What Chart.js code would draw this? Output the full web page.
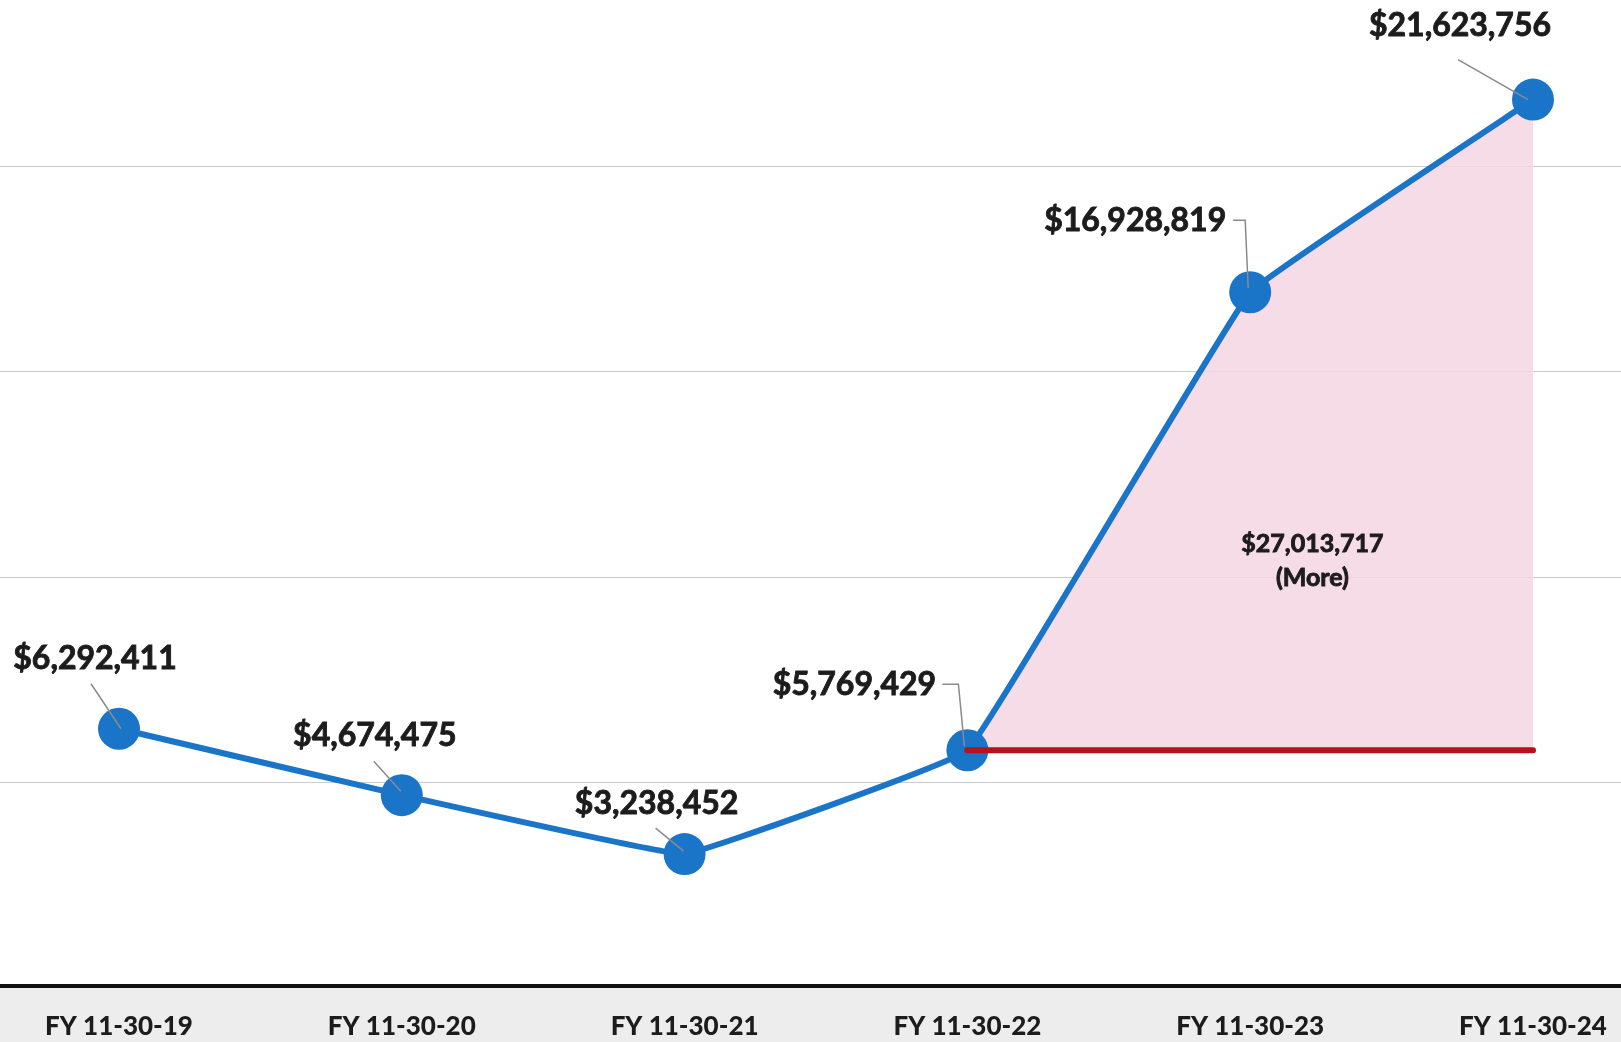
<!DOCTYPE html>
<html>
<head>
<meta charset="utf-8">
<script src="https://cdn.jsdelivr.net/npm/chart.js@4.4.1/dist/chart.umd.min.js"></script>
<style>
  html, body { margin: 0; padding: 0; background: #fff; }
  #wrap { width: 1621px; height: 1042px; position: relative; }
</style>
</head>
<body>
<div id="wrap"><canvas id="myChart"></canvas></div>
<script>
// data
const categories = ['FY 11-30-19', 'FY 11-30-20', 'FY 11-30-21', 'FY 11-30-22', 'FY 11-30-23', 'FY 11-30-24']
const netValues = [6292411, 4674475, 3238452, 5769429, 16928819, 21623756]
const baselineValues = [null, null, null, 5769429, 5769429, 5769429]
const gridValues = [5000000, 10000000, 15000000, 20000000]
const yMin = 0
const yMax = 24050000

// label placement relative to each point (pixels), and leader line shape
const labelOffsets = [[-24, -70], [-27, -59], [-28, -50], [-113, -66], [-115, -72], [-73, -74]]
const leaders = [
  [[-28, -45], [2, 0]],
  [[-28, -34], [-1, -4]],
  [[-29, -26], [-1, -3]],
  [[-25, -66], [-9, -66], [-3, -4]],
  [[-17, -72], [-5, -72], [-2, -4]],
  [[-75, -40], [-5, 0]]
]

const money = v => '$' + Math.round(v).toLocaleString('en-US')

// extra over the FY 11-30-22 level, summed over later years
var more = 0
netValues.forEach((v, i) => {
  if (i > 3) more += v - baselineValues[i]
})

// heavy text, a bit like the scanned bold labels
function boldText(ctx, text, x, y) {
  ctx.lineWidth = 0.9
  ctx.strokeStyle = ctx.fillStyle
  ctx.strokeText(text, x, y)
  ctx.fillText(text, x, y)
}

const backdrop = {
  id: 'backdrop',
  beforeDraw(chart) {
    const ctx = chart.ctx
    const area = chart.chartArea
    ctx.save()
    ctx.fillStyle = '#ededed'
    ctx.fillRect(0, area.bottom, chart.width, chart.height - area.bottom)
    ctx.restore()
  },
  beforeDatasetsDraw(chart) {
    const ctx = chart.ctx
    const y = chart.scales.y
    const area = chart.chartArea
    ctx.save()
    ctx.strokeStyle = '#c9ccd4'
    ctx.lineWidth = 1.2
    gridValues.forEach(v => {
      const py = Math.round(y.getPixelForValue(v)) + 0.5
      ctx.beginPath()
      ctx.moveTo(0, py)
      ctx.lineTo(chart.width, py)
      ctx.stroke()
    })
    ctx.strokeStyle = '#111'
    ctx.lineWidth = 4
    ctx.beginPath()
    ctx.moveTo(0, area.bottom - 1)
    ctx.lineTo(chart.width, area.bottom - 1)
    ctx.stroke()
    ctx.restore()
  }
}

const pointLabels = {
  id: 'pointLabels',
  afterDatasetsDraw(chart) {
    const ctx = chart.ctx
    const meta = chart.getDatasetMeta(0)
    ctx.save()
    meta.data.forEach((pt, i) => {
      ctx.strokeStyle = '#8a8a8a'
      ctx.lineWidth = 1.5
      ctx.beginPath()
      leaders[i].forEach((o, k) => {
        if (k === 0) ctx.moveTo(pt.x + o[0], pt.y + o[1])
        else ctx.lineTo(pt.x + o[0], pt.y + o[1])
      })
      ctx.stroke()
      ctx.fillStyle = '#1c1c1c'
      ctx.font = 'bold 32px Lato'
      ctx.textAlign = 'center'
      ctx.textBaseline = 'middle'
      boldText(ctx, money(netValues[i]), pt.x + labelOffsets[i][0], pt.y + labelOffsets[i][1])
    })
    // the shaded gain
    const x = chart.scales.x.getPixelForValue(4.22)
    const yy = chart.scales.y.getPixelForValue(10800000)
    ctx.font = 'bold 25px Lato'
    boldText(ctx, money(more), x, yy)
    boldText(ctx, '(More)', x, yy + 34)
    ctx.restore()
  }
}

var ctx = document.getElementById('myChart')
var chart = new Chart(ctx, {
  type: 'line',
  data: {
    labels: categories,
    datasets: [
      {
        label: 'Net',
        data: netValues,
        borderColor: '#1a74c8',
        backgroundColor: '#1a74c8',
        borderWidth: 6,
        pointRadius: 21,
        pointBorderWidth: 0,
        pointBackgroundColor: '#1a74c8',
        tension: 0.06,
        clip: false,
        order: 1,
        fill: { target: 1, above: 'rgba(244, 214, 226, 0.85)', below: 'rgba(0,0,0,0)' }
      },
      {
        label: 'Baseline',
        data: baselineValues,
        borderColor: '#b3121e',
        borderWidth: 6,
        borderCapStyle: 'round',
        pointRadius: 0,
        fill: false,
        clip: false,
        order: 0
      }
    ]
  },
  options: {
    responsive: true,
    maintainAspectRatio: false,
    animation: false,
    events: [],
    layout: { autoPadding: false, padding: { left: 119, right: 88, top: 0, bottom: 0 } },
    plugins: {
      legend: { display: false },
      tooltip: { enabled: false }
    },
    scales: {
      x: {
        offset: false,
        grid: { display: false, drawTicks: false },
        border: { display: false },
        afterFit: scale => {
          scale.height = 55
          scale.paddingLeft = 0
          scale.paddingRight = 0
        },
        ticks: {
          padding: 24,
          color: '#1c1c1c',
          font: { family: 'Lato', weight: 900, size: 26 },
          maxRotation: 0
        }
      },
      y: {
        display: false,
        min: yMin,
        max: yMax
      }
    }
  },
  plugins: [backdrop, pointLabels]
})
</script>
</body>
</html>
